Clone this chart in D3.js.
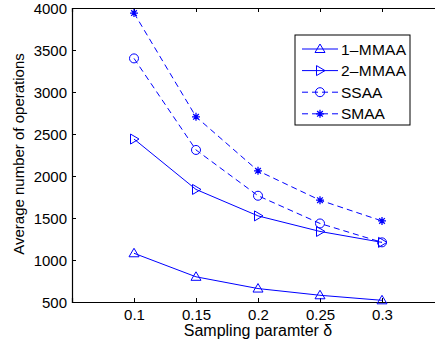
<!DOCTYPE html>
<html>
<head>
<meta charset="utf-8">
<script src="https://cdn.jsdelivr.net/npm/d3@7"></script>
<style>
  body { margin: 0; background: #fff; }
  text { font-family: "Liberation Sans", Arial, sans-serif; fill: #000; }
</style>
</head>
<body>
<div id="chart"></div>
<script>
// sampling parameter values (x)
const deltas = [0.1, 0.15, 0.2, 0.25, 0.3];

// average number of operations per method
const mmaa1 = [1080, 800, 660, 580, 520];
const mmaa2 = [2440, 1840, 1525, 1340, 1210];
const ssaa = [3400, 2310, 1765, 1435, 1210];
const smaa = [3940, 2705, 2062, 1712, 1465];

const seriesNames = ["1\u2013MMAA", "2\u2013MMAA", "SSAA", "SMAA"];
const yTicks = [500, 1000, 1500, 2000, 2500, 3000, 3500, 4000];

const width = 435, height = 347;
const blue = "#0000ff";

const svg = d3.select("#chart").append("svg")
  .attr("width", width).attr("height", height);

// x runs 0.05..0.35 but the right part is cut by the window
const x = d3.scaleLinear().domain([0.05, 0.35]).range([72, 444]);
const y = d3.scaleLinear().domain([500, 4000]).range([302, 8]);

const series = [
  { name: seriesNames[0], vals: mmaa1, marker: "tri", dash: null },
  { name: seriesNames[1], vals: mmaa2, marker: "tri-right", dash: null },
  { name: seriesNames[2], vals: ssaa, marker: "circle", dash: "6,4" },
  { name: seriesNames[3], vals: smaa, marker: "star", dash: "6,4" }
];

// axes (ticks pointing inwards)
const fmtX = d => String(+d.toFixed(2));
svg.append("g").attr("transform", "translate(0,302)")
  .call(d3.axisBottom(x).tickValues(deltas).tickSize(-4).tickFormat(fmtX))
  .call(g => g.selectAll("text").style("font-size", "15px").attr("y", 18).attr("dy", 0));
svg.append("g").attr("transform", "translate(0,8)")
  .call(d3.axisTop(x).tickValues(deltas).tickSize(-4).tickFormat(""));
svg.append("g").attr("transform", "translate(72,0)")
  .call(d3.axisLeft(y).tickValues(yTicks).tickSize(-4).tickPadding(5).tickFormat(d3.format("d")))
  .call(g => g.selectAll("text").style("font-size", "15px").attr("dy", "0.36em"));
svg.selectAll(".domain").attr("stroke", "#000").attr("stroke-width", 1.2);
svg.selectAll(".tick line").attr("stroke", "#000");

function drawMarker(g, type, cx, cy) {
  const s = 5;
  if (type === "tri") {
    g.append("path").attr("d", `M${cx},${cy - s}L${cx + s},${cy + s * 0.7}L${cx - s},${cy + s * 0.7}Z`)
      .attr("fill", "none").attr("stroke", blue);
  } else if (type === "tri-right") {
    g.append("path").attr("d", `M${cx + s},${cy}L${cx - s * 0.7},${cy - s}L${cx - s * 0.7},${cy + s}Z`)
      .attr("fill", "none").attr("stroke", blue);
  } else if (type === "circle") {
    g.append("circle").attr("cx", cx).attr("cy", cy).attr("r", 4.5)
      .attr("fill", "none").attr("stroke", blue);
  } else {
    const r = 4;
    let d = "";
    for (let a = 0; a < 4; a++) {
      const t = a * Math.PI / 4;
      d += `M${cx - r * Math.cos(t)},${cy - r * Math.sin(t)}L${cx + r * Math.cos(t)},${cy + r * Math.sin(t)}`;
    }
    g.append("path").attr("d", d).attr("stroke", blue).attr("stroke-width", 1.3);
  }
}

const line = d3.line().x((d, i) => x(deltas[i])).y(d => y(d));
const plot = svg.append("g");
series.forEach(s => {
  plot.append("path").datum(s.vals).attr("d", line)
    .attr("fill", "none").attr("stroke", blue).attr("stroke-width", 1)
    .attr("stroke-dasharray", s.dash);
  s.vals.forEach((v, i) => drawMarker(plot, s.marker, x(deltas[i]), y(v)));
});

// legend
const leg = svg.append("g");
leg.append("rect").attr("x", 295).attr("y", 35).attr("width", 115).attr("height", 90)
  .attr("fill", "#fff").attr("stroke", "#000").attr("stroke-width", 1);
series.forEach((s, i) => {
  const ly = 49 + i * 21.6;
  leg.append("line").attr("x1", 302).attr("x2", 338).attr("y1", ly).attr("y2", ly)
    .attr("stroke", blue).attr("stroke-dasharray", s.dash);
  drawMarker(leg, s.marker, 320, ly);
  leg.append("text").attr("x", 341).attr("y", ly).attr("dy", "0.36em")
    .attr("textLength", s.name.length > 4 ? 65 : null)
    .style("font-size", "15.5px").text(s.name);
});

// axis titles
svg.append("text").attr("x", 258).attr("y", 336).attr("text-anchor", "middle")
  .style("font-size", "16px").text("Sampling paramter \u03b4");
svg.append("text").attr("transform", "translate(24,154) rotate(-90)")
  .attr("text-anchor", "middle").style("font-size", "15px")
  .text("Average number of operations");
</script>
</body>
</html>
